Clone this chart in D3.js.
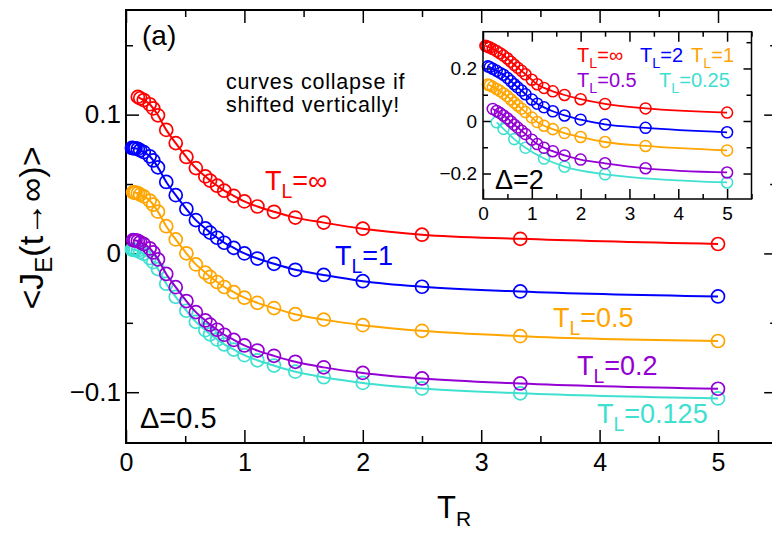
<!DOCTYPE html>
<html>
<head>
<meta charset="utf-8">
<script src="https://cdn.jsdelivr.net/npm/d3@7"></script>
<style>
body { margin: 0; background: #fff; }
svg { display: block; font-family: "Liberation Sans", Arial, sans-serif; }
</style>
</head>
<body>
<svg id="chart" width="772" height="534"></svg>
<script>
// main panel (Delta = 0.5): T_R values and <J_E> for each T_L
var trMain = [0.05, 0.06, 0.07, 0.08, 0.1, 0.12, 0.15, 0.2, 0.23, 0.27, 0.34, 0.42, 0.51, 0.59,
              0.67, 0.71, 0.77, 0.83, 0.91, 1.0, 1.11, 1.25, 1.43, 1.67, 2.0, 2.5, 3.33, 5.0];
var mainInf  = [null, null, null, null, 0.1128, 0.1118, 0.1105, 0.1075, 0.1045, 0.0995, 0.0890, 0.0795, 0.0695, 0.0615,
                0.0555, 0.0525, 0.0488, 0.0452, 0.0415, 0.0375, 0.0338, 0.0300, 0.0258, 0.0222, 0.0178, 0.0135, 0.0105, 0.0068];
var mainT1   = [0.0760, 0.0759, 0.0758, 0.0757, 0.0753, 0.0743, 0.0730, 0.0700, 0.0670, 0.0620, 0.0515, 0.0420, 0.0320, 0.0240,
                0.0180, 0.0150, 0.0113, 0.0077, 0.0040, 0.0000, -0.0037, -0.0075, -0.0118, -0.0155, -0.0200, -0.0240, -0.0274, -0.0310];
var mainT05  = [null, 0.0440, 0.0439, 0.0438, 0.0434, 0.0424, 0.0411, 0.0381, 0.0351, 0.0301, 0.0196, 0.0101, 0.0001, -0.0079,
                -0.0139, -0.0169, -0.0206, -0.0242, -0.0279, -0.0319, -0.0356, -0.0394, -0.0438, -0.0477, -0.0517, -0.0558, -0.0596, -0.0631];
var mainT02  = [null, 0.0096, 0.0095, 0.0094, 0.0090, 0.0080, 0.0067, 0.0037, 0.0007, -0.0043, -0.0148, -0.0243, -0.0343, -0.0423,
                -0.0483, -0.0513, -0.0550, -0.0586, -0.0623, -0.0663, -0.0700, -0.0738, -0.0781, -0.0821, -0.0861, -0.0901, -0.0937, -0.0975];
var mainT0125 = [0.0028, 0.0027, 0.0026, 0.0024, 0.0020, 0.0010, -0.0003, -0.0033, -0.0063, -0.0113, -0.0218, -0.0313, -0.0413, -0.0493,
                 -0.0553, -0.0583, -0.0620, -0.0656, -0.0693, -0.0733, -0.0770, -0.0808, -0.0852, -0.0892, -0.0933, -0.0973, -0.1008, -0.1045];

// inset (Delta = 2)
var trInset = [0.05, 0.07, 0.1, 0.14, 0.2, 0.28, 0.35, 0.42, 0.5, 0.57, 0.64, 0.71, 0.79, 0.87,
               1.0, 1.11, 1.25, 1.43, 1.67, 2.0, 2.5, 3.33, 5.0];
var insInf  = [0.286, 0.285, 0.283, 0.280, 0.274, 0.266, 0.258, 0.249, 0.238, 0.226, 0.214, 0.203, 0.191, 0.178,
               0.157, 0.140, 0.126, 0.113, 0.099, 0.083, 0.065, 0.048, 0.032];
var insT2   = [null, null, 0.208, 0.205, 0.199, 0.191, 0.183, 0.176, 0.164, 0.152, 0.140, 0.128, 0.116, 0.102,
               0.082, 0.066, 0.052, 0.037, 0.021, 0.005, -0.013, -0.026, -0.043];
var insT1   = [null, null, 0.139, 0.136, 0.130, 0.122, 0.114, 0.105, 0.094, 0.082, 0.070, 0.059, 0.047, 0.034,
               0.013, -0.004, -0.018, -0.031, -0.046, -0.061, -0.080, -0.095, -0.112];
var insT05  = [null, null, null, null, 0.046, 0.038, 0.030, 0.021, 0.010, -0.002, -0.014, -0.025, -0.037, -0.050,
               -0.071, -0.088, -0.102, -0.115, -0.131, -0.147, -0.161, -0.180, -0.196];
var insT025 = [null, null, null, null, null, -0.005, null, -0.030, null, null, -0.069, null, null, -0.102,
               null, null, -0.143, null, -0.174, null, -0.203, null, -0.234];

var xTicks = [0, 1, 2, 3, 4, 5];
var xMinor = [0.5, 1.5, 2.5, 3.5, 4.5, 5.5];
var yTicksMain = [-0.1, 0, 0.1];
var yMinorMain = [-0.05, 0.05, 0.15];
var yTicksInset = [-0.2, 0, 0.2];
var yMinorInset = [-0.1, 0.1, 0.3];

var RED = '#ff0000', BLUE = '#0000ff', ORANGE = '#ffa500', VIOLET = '#9400d3', TURQ = '#40e0d0';

var svg = d3.select('#chart');

// ---------- main panel ----------
var x = d3.scaleLinear().domain([0, 5.5]).range([126, 777.2]);
var y = d3.scaleLinear().domain([-0.1366, 0.1754]).range([443, 10]);

function ticks(g, axis, size, vals, labels, pad, fs) {
	var a = g.call(axis.tickValues(vals).tickSize(size).tickPadding(pad)
	           .tickFormat(labels ? d3.format('') : function() { return ''; }));
	a.select('.domain').remove();
	a.selectAll('line').attr('stroke', '#000').attr('stroke-width', 1.5);
	a.selectAll('text').attr('font-size', fs).attr('fill', '#000')
	 .attr('font-family', '"Liberation Sans", Arial, sans-serif');
}

var gm = svg.append('g');
ticks(gm.append('g').attr('transform', 'translate(0,443)'), d3.axisBottom(x), -13, xTicks, true, 10, 25);
ticks(gm.append('g').attr('transform', 'translate(0,443)'), d3.axisBottom(x), -7, xMinor, false, 0, 0);
ticks(gm.append('g').attr('transform', 'translate(0,10)'), d3.axisTop(x), -13, xTicks, false, 0, 0);
ticks(gm.append('g').attr('transform', 'translate(0,10)'), d3.axisTop(x), -7, xMinor, false, 0, 0);
ticks(gm.append('g').attr('transform', 'translate(126,0)'), d3.axisLeft(y), -13, yTicksMain, true, 5, 26);
ticks(gm.append('g').attr('transform', 'translate(126,0)'), d3.axisLeft(y), -7, yMinorMain, false, 0, 0);
ticks(gm.append('g').attr('transform', 'translate(777.2,0)'), d3.axisRight(y), -13, yTicksMain, false, 0, 0);
ticks(gm.append('g').attr('transform', 'translate(777.2,0)'), d3.axisRight(y), -7, yMinorMain, false, 0, 0);

gm.append('rect').attr('x', 126).attr('y', 10).attr('width', 651.2).attr('height', 433)
	.attr('fill', 'none').attr('stroke', '#000').attr('stroke-width', 2);

function drawSeries(g, xs, ys, tr, vals, color, r, lw) {
	var pts = [];
	for (var i = 0; i < tr.length; i++) {
		if (vals[i] !== null) pts.push([tr[i], vals[i]]);
	}
	var line = d3.line().x(function(d) { return xs(d[0]); })
	                    .y(function(d) { return ys(d[1]); })
	                    .curve(d3.curveMonotoneX);
	g.append('path').attr('d', line(pts)).attr('fill', 'none')
	 .attr('stroke', color).attr('stroke-width', lw);
	g.selectAll(null).data(pts).enter().append('circle')
	 .attr('cx', function(d) { return xs(d[0]); })
	 .attr('cy', function(d) { return ys(d[1]); })
	 .attr('r', r).attr('fill', 'none').attr('stroke', color).attr('stroke-width', lw * 0.85);
}

var mainSeries = [[mainT0125, TURQ], [mainT02, VIOLET], [mainT05, ORANGE], [mainT1, BLUE], [mainInf, RED]];
mainSeries.forEach(function(s) { drawSeries(gm, x, y, trMain, s[0], s[1], 6.5, 2); });

function subLabel(g, px, py, fs, color, main, sub, rest) {
	var t = g.append('text').attr('x', px).attr('y', py).attr('font-size', fs).attr('fill', color);
	t.append('tspan').text(main);
	t.append('tspan').attr('font-size', fs * 0.72).attr('dy', fs * 0.28).text(sub);
	t.append('tspan').attr('dy', -fs * 0.28).text(rest);
	return t;
}

gm.append('text').attr('x', 142).attr('y', 45).attr('font-size', 28).text('(a)');
gm.append('text').attr('x', 226).attr('y', 89).attr('font-size', 21.5)
	.attr('letter-spacing', 0.8).text('curves collapse if');
gm.append('text').attr('x', 226).attr('y', 112).attr('font-size', 21.5)
	.attr('letter-spacing', 0.8).text('shifted vertically!');
subLabel(gm, 265, 190, 27, RED, 'T', 'L', '=\u221e');
subLabel(gm, 335, 265, 27, BLUE, 'T', 'L', '=1');
subLabel(gm, 553, 327, 27, ORANGE, 'T', 'L', '=0.5');
subLabel(gm, 577, 375, 27, VIOLET, 'T', 'L', '=0.2');
subLabel(gm, 597, 423, 27, TURQ, 'T', 'L', '=0.125');
gm.append('text').attr('x', 140).attr('y', 428).attr('font-size', 29).text('\u0394=0.5');

// axis titles
var yt = svg.append('text').attr('transform', 'translate(43,228) rotate(-90)')
	.attr('text-anchor', 'middle').attr('font-size', 34);
yt.append('tspan').text('<J');
yt.append('tspan').attr('font-size', 24).attr('dy', 9).text('E');
yt.append('tspan').attr('dy', -9).text('(t\u2192\u221e)>');

var xt = svg.append('text').attr('x', 437).attr('y', 518).attr('font-size', 31);
xt.append('tspan').text('T');
xt.append('tspan').attr('font-size', 21).attr('dy', 8).text('R');

// ---------- inset ----------
var ix = d3.scaleLinear().domain([0, 5.5]).range([483, 751.5]);
var iy = d3.scaleLinear().domain([-0.297, 0.34]).range([199, 31.7]);
var gi = svg.append('g');
gi.append('rect').attr('x', 483).attr('y', 31.7).attr('width', 268.5).attr('height', 167.3).attr('fill', '#fff');

ticks(gi.append('g').attr('transform', 'translate(0,199)'), d3.axisBottom(ix), -10, xTicks, true, 8, 19);
ticks(gi.append('g').attr('transform', 'translate(0,199)'), d3.axisBottom(ix), -5, xMinor, false, 0, 0);
ticks(gi.append('g').attr('transform', 'translate(0,31.7)'), d3.axisTop(ix), -10, xTicks, false, 0, 0);
ticks(gi.append('g').attr('transform', 'translate(0,31.7)'), d3.axisTop(ix), -5, xMinor, false, 0, 0);
ticks(gi.append('g').attr('transform', 'translate(483,0)'), d3.axisLeft(iy), -8, yTicksInset, true, 6, 19);
ticks(gi.append('g').attr('transform', 'translate(483,0)'), d3.axisLeft(iy), -5, yMinorInset, false, 0, 0);
ticks(gi.append('g').attr('transform', 'translate(751.5,0)'), d3.axisRight(iy), -8, yTicksInset, false, 0, 0);
ticks(gi.append('g').attr('transform', 'translate(751.5,0)'), d3.axisRight(iy), -5, yMinorInset, false, 0, 0);

var insetSeries = [[insT025, TURQ], [insT05, VIOLET], [insT1, ORANGE], [insT2, BLUE], [insInf, RED]];
insetSeries.forEach(function(s) { drawSeries(gi, ix, iy, trInset, s[0], s[1], 5.5, 1.8); });

gi.append('rect').attr('x', 483).attr('y', 31.7).attr('width', 268.5).attr('height', 167.3)
	.attr('fill', 'none').attr('stroke', '#000').attr('stroke-width', 1.5);

subLabel(gi, 577, 62, 20, RED, 'T', 'L', '=\u221e');
subLabel(gi, 640, 62, 20, BLUE, 'T', 'L', '=2');
subLabel(gi, 691, 62, 20, ORANGE, 'T', 'L', '=1');
subLabel(gi, 577, 87, 20, VIOLET, 'T', 'L', '=0.5');
subLabel(gi, 659, 87, 20, TURQ, 'T', 'L', '=0.25');
gi.append('text').attr('x', 495).attr('y', 189).attr('font-size', 27).text('\u0394=2');
</script>
</body>
</html>
